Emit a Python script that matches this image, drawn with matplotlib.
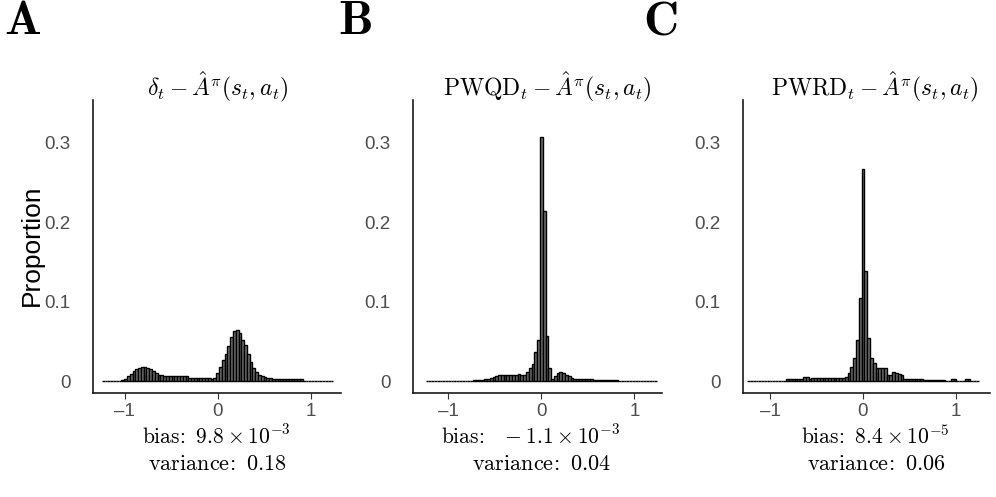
import numpy as np
import matplotlib
matplotlib.use('Agg')
import matplotlib.pyplot as plt

plt.rcParams['mathtext.fontset'] = 'cm'
plt.rcParams['font.family'] = 'Liberation Sans'

# bin centres shared by the three histograms
bin_centers = np.round(np.arange(-1.23, 1.2301, 0.03), 2)
bin_width = 0.03

# proportions (one value per bin)
prop_td = ([0] * 7
           + [0.001, 0.003, 0.006, 0.009, 0.012, 0.015, 0.017, 0.018, 0.018, 0.017,
              0.015, 0.012, 0.010, 0.008, 0.007]
           + [0.006] * 9 + [0.004] * 8 + [0.003, 0.004]
           + [0.010, 0.018, 0.026, 0.034, 0.044, 0.056, 0.063, 0.064, 0.060, 0.052,
              0.045, 0.034, 0.024, 0.017, 0.011, 0.008, 0.006, 0.005, 0.004, 0.004,
              0.003, 0.003]
           + [0.002] * 9 + [0] * 11)

prop_pwqd = ([0] * 17
             + [0.001, 0.001, 0.0015, 0.0015, 0.003, 0.003, 0.004, 0.005, 0.006, 0.007,
                0.007, 0.007, 0.007, 0.007, 0.007, 0.008, 0.009, 0.007, 0.007, 0.011,
                0.016, 0.022, 0.036, 0.052]
             + [0.308, 0.214, 0.057]
             + [0.017, 0.003, 0.006, 0.010, 0.011, 0.010, 0.008, 0.006, 0.004]
             + [0.003] * 7 + [0.0015] * 9 + [0] * 14)

prop_pwrd = ([0] * 14
             + [0.003, 0.003, 0.003, 0.002, 0.002, 0.002, 0.005, 0.005, 0.003, 0.004]
             + [0.004] * 11
             + [0.005, 0.010, 0.018, 0.029, 0.052, 0.104, 0.267, 0.139, 0.054, 0.029,
                0.023, 0.017, 0.017, 0.017, 0.016, 0.008, 0.008, 0.011, 0.010, 0.009,
                0.007]
             + [0.002] * 7 + [0.0015] * 8 + [0, 0] + [0.002, 0.002] + [0, 0, 0]
             + [0.002, 0.002] + [0, 0, 0])

titles = [r'$\delta_t - \hat{A}^{\pi}(s_t, a_t)$',
          r'$\mathrm{PWQD}_t - \hat{A}^{\pi}(s_t, a_t)$',
          r'$\mathrm{PWRD}_t - \hat{A}^{\pi}(s_t, a_t)$']
panel_letters = ['A', 'B', 'C']
bias_text = [r'$\mathrm{bias}\!:\ 9.8\times10^{-3}$',
             r'$\mathrm{bias}\!:\ \ -1.1\times10^{-3}$',
             r'$\mathrm{bias}\!:\ 8.4\times10^{-5}$']
var_text = [r'$\mathrm{variance}\!:\ 0.18$',
            r'$\mathrm{variance}\!:\ 0.04$',
            r'$\mathrm{variance}\!:\ 0.06$']
data = [prop_td, prop_pwqd, prop_pwrd]

W, H = 996, 497
fig = plt.figure(figsize=(W / 100, H / 100), dpi=100)

# axes placement in pixels: left, xlim
lefts = [93, 413, 743]
xlims = [(-1.34, 1.33), (-1.38, 1.30), (-1.29, 1.37)]
unit = 93.0
top, bottom = 100, 393
title_cx = [218, 547, 875]
bias_cx = [216, 531, 875]
var_cx = [217, 541, 876]

for i in range(3):
    x0, x1 = xlims[i]
    width = (x1 - x0) * unit
    ax = fig.add_axes([lefts[i] / W, 1 - bottom / H, width / W, (bottom - top) / H])
    ax.bar(bin_centers, data[i], width=bin_width, color='#6e6e6e',
           edgecolor='black', linewidth=1.0)
    ax.set_xlim(x0, x1)
    ax.set_ylim(-0.0151, 0.354)
    ax.set_xticks([-1, 0, 1])
    ax.set_xticklabels(['\u20131', '0', '1'])
    ax.set_yticks([0, 0.1, 0.2, 0.3])
    ax.set_yticklabels(['0', '0.1', '0.2', '0.3'])
    ax.tick_params(axis='x', length=4, width=0.8, color='#333333', labelsize=13.5,
                   labelcolor='#4d4d4d', pad=3)
    ax.tick_params(axis='y', length=0, labelsize=13.5, labelcolor='#4d4d4d', pad=16)
    for s in ['top', 'right']:
        ax.spines[s].set_visible(False)
    for s in ['left', 'bottom']:
        ax.spines[s].set_linewidth(1.2)
        ax.spines[s].set_color('#1a1a1a')

    fig.text(title_cx[i] / W, 1 - 87 / H, titles[i], ha='center', va='center', fontsize=17)
    fig.text(bias_cx[i] / W, 1 - 437 / H, bias_text[i], ha='center', va='center', fontsize=15.5)
    fig.text(var_cx[i] / W, 1 - 465 / H, var_text[i], ha='center', va='center', fontsize=16)

# y label placed by hand so it sits just left of the tick labels
fig.text(32 / W, 1 - 245 / H, 'Proportion', rotation=90, ha='center', va='center',
         fontsize=19)

letter_x = [4, 338, 643]
for i in range(3):
    fig.text(letter_x[i] / W, 1 - 22 / H, r'$\mathbf{%s}$' % panel_letters[i],
             ha='left', va='center', fontsize=35)

fig.savefig('out.png', dpi=100)
